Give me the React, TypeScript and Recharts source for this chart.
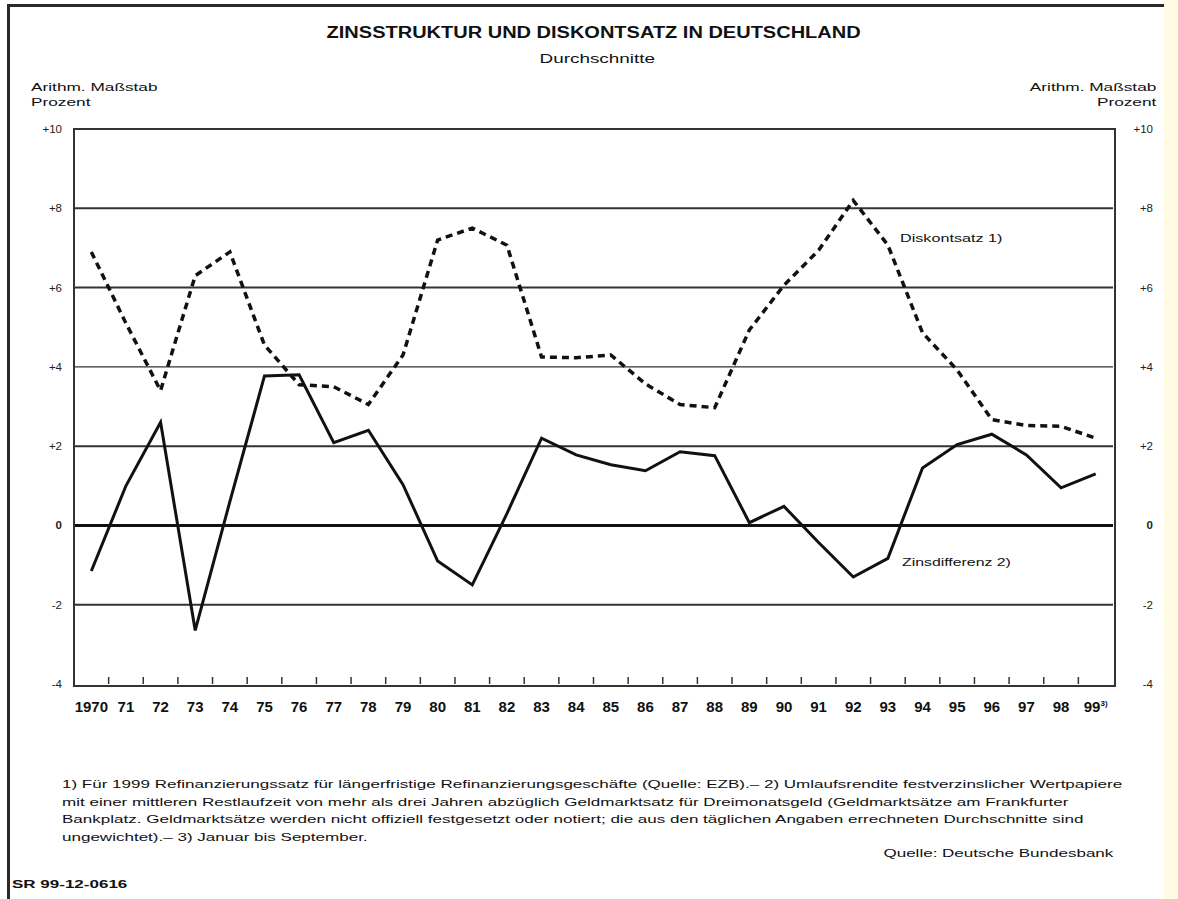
import React from 'react';
import {
  LineChart,
  Line,
  XAxis,
  YAxis,
  ReferenceLine,
} from 'recharts';

// Jahresdurchschnitte, Prozent
const years = [
  '1970', '71', '72', '73', '74', '75', '76', '77', '78', '79',
  '80', '81', '82', '83', '84', '85', '86', '87', '88', '89',
  '90', '91', '92', '93', '94', '95', '96', '97', '98', '99',
];
const diskontsatz = [
  6.9, 5.1, 3.4, 6.3, 6.9, 4.55, 3.55, 3.5, 3.05, 4.3,
  7.2, 7.5, 7.07, 4.25, 4.23, 4.3, 3.57, 3.05, 2.97, 4.93,
  6.06, 6.94, 8.2, 7.07, 4.86, 3.92, 2.67, 2.52, 2.5, 2.2,
];
const zinsdifferenz = [
  -1.15, 1.0, 2.6, -2.65, 0.6, 3.77, 3.8, 2.09, 2.4, 1.03,
  -0.9, -1.5, 0.3, 2.2, 1.78, 1.53, 1.38, 1.86, 1.76, 0.07,
  0.48, -0.43, -1.3, -0.83, 1.45, 2.04, 2.3, 1.78, 0.95, 1.3,
];
const yTicks = [-4, -2, 0, 2, 4, 6, 8, 10];
const gridLines = [8, 6, 4, 2, -2];

const footnotes = [
  '1) Für 1999 Refinanzierungssatz für längerfristige Refinanzierungsgeschäfte (Quelle: EZB).– 2) Umlaufsrendite festverzinslicher Wertpapiere',
  'mit einer mittleren Restlaufzeit von mehr als drei Jahren abzüglich Geldmarktsatz für Dreimonatsgeld (Geldmarktsätze am Frankfurter',
  'Bankplatz. Geldmarktsätze werden nicht offiziell festgesetzt oder notiert; die aus den täglichen Angaben errechneten Durchschnitte sind',
  'ungewichtet).– 3) Januar bis September.',
];

const data = years.map((year, i) => ({
  year,
  diskont: diskontsatz[i],
  differenz: zinsdifferenz[i],
}));

const W = 1178;
const H = 899;
const PLOT_LEFT = 74;
const PLOT_RIGHT = 1113;
const PLOT_TOP = 129;
const PLOT_BOTTOM = 684;
const BAND = (PLOT_RIGHT - PLOT_LEFT) / years.length;
const FONT = '"Liberation Sans", Arial, sans-serif';
// the original print is set in a wide grotesque, so stretch Liberation Sans
const WIDE = 1.47;

const fmtY = (v: number) => (v > 0 ? `+${v}` : `${v}`);

function XTick(props: any) {
  const { x, payload, index } = props;
  const isLast = index === years.length - 1;
  return (
    <g>
      {index > 0 && (
        <line
          x1={x - BAND / 2}
          x2={x - BAND / 2}
          y1={PLOT_BOTTOM - 7}
          y2={PLOT_BOTTOM}
          stroke="#333"
          strokeWidth={1.5}
        />
      )}
      <text
        x={x}
        y={PLOT_BOTTOM + 28}
        textAnchor="middle"
        fontFamily={FONT}
        fontWeight="bold"
        fontSize={15}
        fill="#111"
      >
        {payload.value}
        {isLast && (
          <tspan fontSize={8} dy={-6}>
            3)
          </tspan>
        )}
      </text>
    </g>
  );
}

function YTick(props: any) {
  const { y, payload, side } = props;
  return (
    <text
      x={side === 'l' ? PLOT_LEFT - 12 : PLOT_RIGHT + 40}
      y={y + 4}
      textAnchor="end"
      fontFamily={FONT}
      fontSize={11.5}
      fontWeight={payload.value === 0 ? 'bold' : 'normal'}
      fill="#222"
    >
      {fmtY(payload.value)}
    </text>
  );
}

const abs = (style: React.CSSProperties): React.CSSProperties => ({
  position: 'absolute',
  ...style,
});

function Wide({
  children,
  s = WIDE,
  origin = 'left',
}: {
  children: React.ReactNode;
  s?: number;
  origin?: string;
}) {
  return (
    <div
      style={{
        display: 'inline-block',
        whiteSpace: 'nowrap',
        transform: `scaleX(${s})`,
        transformOrigin: `${origin} center`,
      }}
    >
      {children}
    </div>
  );
}

export default function App() {
  return (
    <div
      style={abs({
        left: 0,
        top: 0,
        width: W,
        height: H,
        background: '#fff',
        fontFamily: FONT,
        color: '#111',
        overflow: 'hidden',
      })}
    >
      {/* frame */}
      <div style={abs({ left: 7, top: 4, width: 1158, height: 3, background: '#2a2a2a' })} />
      <div style={abs({ left: 7, top: 4, width: 3, height: H, background: '#2a2a2a' })} />
      <div style={abs({ left: 1164, top: 0, width: 14, height: H, background: '#fffbe3' })} />

      <div
        style={abs({
          left: 0,
          width: 1188,
          top: 24,
          textAlign: 'center',
          fontSize: 16,
          fontWeight: 'bold',
        })}
      >
        <Wide s={1.25} origin="center">
          ZINSSTRUKTUR UND DISKONTSATZ IN DEUTSCHLAND
        </Wide>
      </div>
      <div
        style={abs({
          left: 0,
          width: 1194,
          top: 51,
          textAlign: 'center',
          fontSize: 13.5,
        })}
      >
        <Wide s={1.4} origin="center">
          Durchschnitte
        </Wide>
      </div>

      <div style={abs({ left: 31, top: 80, fontSize: 11.5, lineHeight: '15px' })}>
        <Wide s={1.5}>
          Arithm. Maßstab
          <br />
          Prozent
        </Wide>
      </div>
      <div
        style={abs({
          right: W - 1156,
          top: 80,
          fontSize: 11.5,
          lineHeight: '15px',
          textAlign: 'right',
        })}
      >
        <Wide s={1.5} origin="right">
          Arithm. Maßstab
          <br />
          Prozent
        </Wide>
      </div>

      <div style={abs({ left: 0, top: 0 })}>
        <LineChart
          width={W}
          height={H}
          data={data}
          margin={{
            top: PLOT_TOP,
            bottom: H - PLOT_BOTTOM - 30,
            left: PLOT_LEFT - 40,
            right: W - PLOT_RIGHT - 40,
          }}
        >
          <XAxis
            dataKey="year"
            interval={0}
            height={30}
            padding={{ left: BAND / 2, right: BAND / 2 }}
            axisLine={false}
            tickLine={false}
            tick={<XTick />}
          />
          <YAxis
            yAxisId="l"
            orientation="left"
            width={40}
            domain={[-4, 10]}
            ticks={yTicks}
            axisLine={false}
            tickLine={false}
            tick={<YTick side="l" />}
          />
          <YAxis
            yAxisId="r"
            orientation="right"
            width={40}
            domain={[-4, 10]}
            ticks={yTicks}
            axisLine={false}
            tickLine={false}
            tick={<YTick side="r" />}
          />
          {gridLines.map((v) => (
            <ReferenceLine
              key={v}
              yAxisId="l"
              y={v}
              stroke="#333"
              strokeWidth={v === 4 ? 1.2 : 2}
            />
          ))}
          <ReferenceLine yAxisId="l" y={0} stroke="#111" strokeWidth={3} />
          <Line
            yAxisId="l"
            dataKey="diskont"
            type="linear"
            stroke="#111"
            strokeWidth={3.5}
            strokeDasharray="7 5"
            dot={false}
            isAnimationActive={false}
          />
          <Line
            yAxisId="r"
            dataKey="differenz"
            type="linear"
            stroke="#111"
            strokeWidth={3}
            dot={false}
            isAnimationActive={false}
          />
        </LineChart>
      </div>

      {/* plot border */}
      <div
        style={abs({
          left: PLOT_LEFT - 1,
          top: PLOT_TOP - 1,
          width: PLOT_RIGHT - PLOT_LEFT,
          height: PLOT_BOTTOM - PLOT_TOP,
          border: '2px solid #333',
          pointerEvents: 'none',
        })}
      />

      <div style={abs({ left: 900, top: 232, fontSize: 11 })}>
        <Wide>Diskontsatz 1)</Wide>
      </div>
      <div style={abs({ left: 902, top: 556, fontSize: 11 })}>
        <Wide s={1.44}>Zinsdifferenz 2)</Wide>
      </div>

      <div style={abs({ left: 62, top: 776, fontSize: 11.5, lineHeight: '17.5px' })}>
        <Wide s={1.48}>
          {footnotes.map((t) => (
            <div key={t}>{t}</div>
          ))}
        </Wide>
      </div>
      <div style={abs({ right: W - 1113, top: 847, fontSize: 11.5 })}>
        <Wide s={1.48} origin="right">
          Quelle: Deutsche Bundesbank
        </Wide>
      </div>
      <div style={abs({ left: 12, top: 879, fontSize: 10, fontWeight: 'bold' })}>
        <Wide s={1.7}>SR 99-12-0616</Wide>
      </div>
    </div>
  );
}
